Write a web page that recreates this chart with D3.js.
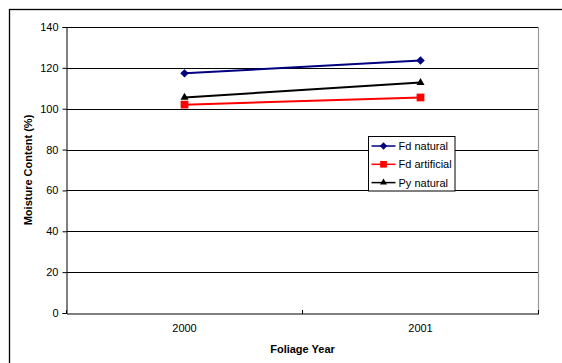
<!DOCTYPE html>
<meta charset="utf-8">
<style>
body { margin:0; background:#fff; }
text { font-family: "Liberation Sans", Arial, sans-serif; font-size:11px; fill:#000; }
.title { font-weight:bold; }
</style>
<body>
<script src="https://d3js.org/d3.v7.min.js"></script>
<script>

var years = ["2000", "2001"];
var fdNatural = [117.3, 123.6];
var fdArtificial = [102, 105.5];
var pyNatural = [105.5, 112.8];
var yTicks = [0, 20, 40, 60, 80, 100, 120, 140];

var series = [
  {name:"Fd natural", values:fdNatural, color:"#000080", symbol:d3.symbolSquare, size:36, rot:45},
  {name:"Fd artificial", values:fdArtificial, color:"#ff0000", symbol:d3.symbolSquare, size:60, rot:0},
  {name:"Py natural", values:pyNatural, color:"#000000", symbol:d3.symbolTriangle, size:28, rot:0}
];

var W = 562, H = 363;
var svg = d3.select("body").append("svg").attr("width", W).attr("height", H);

// outer chart border
svg.append("rect").attr("x",9.5).attr("y",9.5).attr("width",560).attr("height",360)
  .attr("fill","none").attr("stroke","#000").attr("stroke-width",1.3);

var pLeft = 66.5, pRight = 538.5, pTop = 27, pBottom = 313;

var x = d3.scaleBand().domain(years).range([pLeft, pRight]);
var y = d3.scaleLinear().domain([0, 140]).range([pBottom, pTop]);

// gridlines
svg.append("g").selectAll("line").data(yTicks.slice(1)).join("line")
  .attr("x1", pLeft).attr("x2", pRight)
  .attr("y1", d => Math.round(y(d)) + 0.5).attr("y2", d => Math.round(y(d)) + 0.5)
  .attr("stroke", "#000").attr("stroke-width", 1);

// right plot edge
svg.append("line").attr("x1", pRight).attr("x2", pRight).attr("y1", pTop).attr("y2", pBottom)
  .attr("stroke", "#999").attr("stroke-width", 1.2);

// y axis
var yAxis = svg.append("g").attr("transform", "translate(" + pLeft + ",0)")
  .call(d3.axisLeft(y).tickValues(yTicks).tickSize(4).tickPadding(4));
yAxis.select(".domain").attr("stroke", "#000");
yAxis.selectAll("text").style("font-size", "11px").attr("fill", "#000")
  .style("font-family", '"Liberation Sans", Arial, sans-serif');

// x axis
var xAxis = svg.append("g").attr("transform", "translate(0," + (pBottom + 0.5) + ")")
  .call(d3.axisBottom(x).tickSize(0).tickPadding(11));
xAxis.select(".domain").attr("stroke", "#000").attr("stroke-width", 1.2);
xAxis.selectAll("text").style("font-size", "11px").attr("fill", "#000")
  .style("font-family", '"Liberation Sans", Arial, sans-serif');
// category boundary ticks
svg.append("g").selectAll("line").data([pLeft, pLeft + x.step(), pRight]).join("line")
  .attr("x1", d => d).attr("x2", d => d).attr("y1", pBottom - 3).attr("y2", pBottom + 1)
  .attr("stroke", "#000");

// axis titles
svg.append("text").attr("class","title").attr("x", (pLeft + pRight) / 2).attr("y", 353)
  .attr("text-anchor","middle").text("Foliage Year");
svg.append("text").attr("class","title")
  .attr("transform", "translate(32," + (pTop + pBottom) / 2 + ") rotate(-90)")
  .attr("text-anchor","middle").text("Moisture Content (%)");

var line = d3.line().x((d, i) => x(years[i]) + x.bandwidth() / 2).y(d => y(d));

series.forEach(function(s) {
  svg.append("path").datum(s.values).attr("d", line)
    .attr("fill","none").attr("stroke", s.color).attr("stroke-width", 2);
  svg.append("g").selectAll("path").data(s.values).join("path")
    .attr("d", d3.symbol().type(s.symbol).size(s.size))
    .attr("transform", (d, i) => "translate(" + (x(years[i]) + x.bandwidth() / 2) + "," + y(d) + ") rotate(" + s.rot + ")")
    .attr("fill", s.color);
});

// legend
var lg = svg.append("g").attr("transform", "translate(368.5,136.5)");
lg.append("rect").attr("width", 86.5).attr("height", 54.5)
  .attr("fill", "#fff").attr("stroke", "#000").attr("stroke-width", 1);
series.forEach(function(s, i) {
  var cy = 9.5 + i * 18.3;
  lg.append("line").attr("x1", 3).attr("x2", 27).attr("y1", cy).attr("y2", cy)
    .attr("stroke", s.color).attr("stroke-width", 1.5);
  lg.append("path").attr("d", d3.symbol().type(s.symbol).size(s.size * 0.75))
    .attr("transform", "translate(15," + cy + ") rotate(" + s.rot + ")").attr("fill", s.color);
  lg.append("text").attr("x", 30).attr("y", cy + 4).text(s.name);
});

</script>
</body>
